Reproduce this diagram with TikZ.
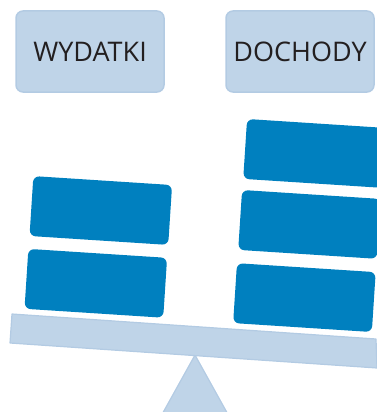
\documentclass[tikz,border=0pt]{standalone}
\usepackage{fontspec}
\setmainfont{Open Sans}
\definecolor{lightbox}{HTML}{BFD4E8}
\definecolor{lightedge}{HTML}{B3CBE3}
\definecolor{blockblue}{HTML}{0080BF}
\definecolor{txt}{HTML}{231F20}
\tikzset{
  labelbox/.style={draw=lightedge, line width=1.5pt, fill=lightbox, rounded corners=7pt,
    minimum width=148pt, minimum height=81pt, inner sep=0pt, text=txt,
    font=\fontsize{27}{32}\selectfont},
  weight/.style={fill=blockblue, rounded corners=6pt, minimum width=139pt,
    minimum height=60pt, inner sep=0pt, rotate=-3.7},
  plate/.style={fill=lightbox, draw=lightedge, line width=1.2pt, line join=round}
}
\begin{document}
\begin{tikzpicture}[x=1pt, y=-1pt]
\useasboundingbox (0,0) rectangle (377,412);
\clip (0,0) rectangle (377,412);
% labels
\node[labelbox] (wyd) at (90,51.5) {WYDATKI};
\node[labelbox] (doch) at (300,51.5) {DOCHODY};
% fulcrum
\path[plate] (195,355) -- (160,418) -- (230,418) -- cycle;
% beam
\path[plate] (12,314) -- (376,339) -- (377,368) -- (10,343) -- cycle;
% left weights
\node[weight] (l1) at (100.8,210.5) {};
\node[weight] (l2) at (95.8,283.3) {};
% right weights
\node[weight] (r1) at (314.5,153.4) {};
\node[weight] (r2) at (309.5,224.4) {};
\node[weight] (r3) at (304.4,297.6) {};
\end{tikzpicture}
\end{document}
